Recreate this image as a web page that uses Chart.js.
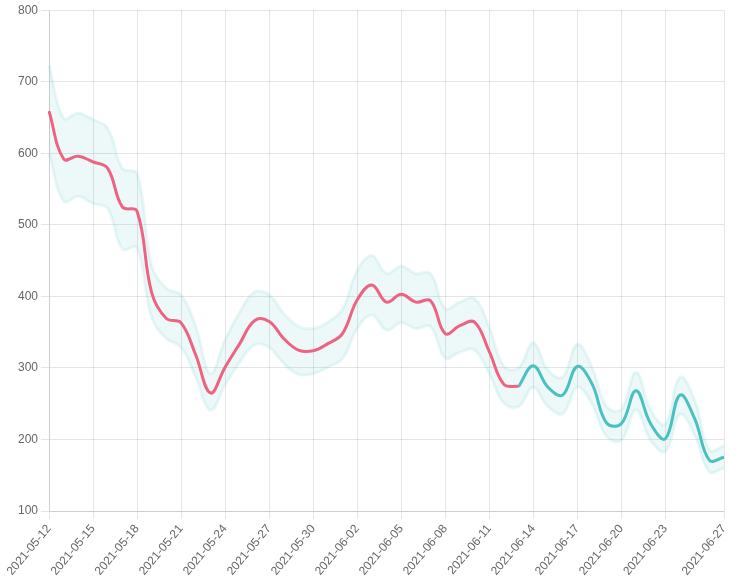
<!DOCTYPE html>
<html>
<head>
<meta charset="utf-8">
<script src="https://cdn.jsdelivr.net/npm/chart.js@4"></script>
<style>
html,body{margin:0;padding:0;background:#fff;}
#wrap{width:742px;height:586px;}
</style>
</head>
<body>
<div id="wrap"><canvas id="c"></canvas></div>
<script>
const labels = ["2021-05-12","2021-05-13","2021-05-14","2021-05-15","2021-05-16","2021-05-17","2021-05-18","2021-05-19","2021-05-20","2021-05-21","2021-05-22","2021-05-23","2021-05-24","2021-05-25","2021-05-26","2021-05-27","2021-05-28","2021-05-29","2021-05-30","2021-05-31","2021-06-01","2021-06-02","2021-06-03","2021-06-04","2021-06-05","2021-06-06","2021-06-07","2021-06-08","2021-06-09","2021-06-10","2021-06-11","2021-06-12","2021-06-13","2021-06-14","2021-06-15","2021-06-16","2021-06-17","2021-06-18","2021-06-19","2021-06-20","2021-06-21","2021-06-22","2021-06-23","2021-06-24","2021-06-25","2021-06-26","2021-06-27"];

const actual = [659,592,596,588,579,525,519,405,369,363,318,265,301,334,366,365,341,325,324,334,348,395,416,392,403,392,394,348,359,364,323,277,274,null,null,null,null,null,null,null,null,null,null,null,null,null,null];
const forecast = [null,null,null,null,null,null,null,null,null,null,null,null,null,null,null,null,null,null,null,null,null,null,null,null,null,null,null,null,null,null,null,null,274,303,273,262,302,278,223,222,268,222,201,262,229,171,175];
const upper = [723,649,656,647,635,579,572,443,411,402,358,292,339,378,406,402,376,358,355,364,382,436,457,432,442,432,432,383,392,397,357,302,300,335,297,287,333,301,246,242,294,241,221,287,255,185,191];
const lower = [600,533,540,530,523,466,468,370,341,329,287,241,276,308,332,329,306,291,292,301,313,355,374,353,363,355,358,314,322,325,292,251,246,273,246,236,273,250,204,199,241,199,183,235,206,155,160];

const yMin = 100, yMax = 800, yStep = 100;
const labelEvery = 3;

new Chart(document.getElementById('c'), {
  type: 'line',
  data: {
    labels: labels,
    datasets: [
      { label: 'actual', data: actual, borderColor: 'rgb(238,98,130)', backgroundColor: 'rgb(238,98,130)', borderWidth: 3, pointRadius: 0, tension: 0.4, fill: false, order: 0 },
      { label: 'forecast', data: forecast, borderColor: 'rgb(75,192,192)', backgroundColor: 'rgb(75,192,192)', borderWidth: 3, pointRadius: 0, tension: 0.4, fill: false, order: 0 },
      { label: 'upper', data: upper, borderColor: 'rgba(75,192,192,0.12)', backgroundColor: 'rgba(75,192,192,0.1)', borderWidth: 3, pointRadius: 0, tension: 0.4, fill: '+1', order: 1 },
      { label: 'lower', data: lower, borderColor: 'rgba(75,192,192,0.12)', backgroundColor: 'rgba(75,192,192,0.1)', borderWidth: 3, pointRadius: 0, tension: 0.4, fill: false, order: 1 }
    ]
  },
  options: {
    responsive: true,
    maintainAspectRatio: false,
    animation: false,
    layout: { padding: { right: 18 } },
    plugins: { legend: { display: false }, tooltip: { enabled: false } },
    scales: {
      x: {
        grid: { color: 'rgba(0,0,0,0.1)' },
        afterFit: function(s) { s.height = 75; },
        ticks: {
          color: '#666', font: { size: 12 }, maxRotation: 50, minRotation: 50, autoSkip: false,
          callback: function(v, i) {
            const n = labels.length;
            if (i === n - 1) return labels[i];
            if (i % labelEvery === 0 && i + labelEvery < n) return labels[i];
            return null;
          }
        }
      },
      y: {
        min: yMin, max: yMax,
        afterFit: function(s) { s.width = 49; },
        grid: { color: 'rgba(0,0,0,0.1)' },
        ticks: { stepSize: yStep, color: '#666', font: { size: 12 } }
      }
    }
  }
});
</script>
</body>
</html>
